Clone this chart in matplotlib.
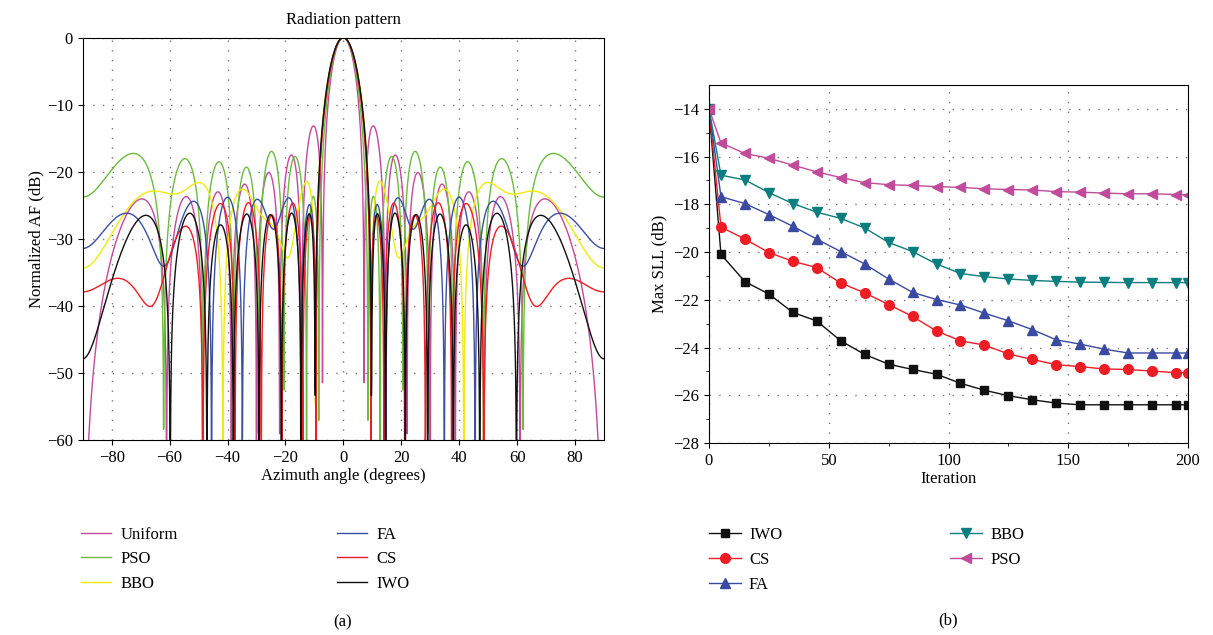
import numpy as np
import matplotlib
matplotlib.use('Agg')
import matplotlib.pyplot as plt

plt.rcParams['font.family'] = ['Liberation Serif', 'DejaVu Serif']
plt.rcParams['font.size'] = 12

# (a) half of each symmetric 16-element array: element positions (wavelengths) and amplitudes
pos_uniform = [0.25, 0.75, 1.25, 1.75, 2.25, 2.75, 3.25, 3.75]
amp_uniform = [1, 1, 1, 1, 1, 1, 1, 1]
pos_pso = [0.199, 0.79, 1.183, 1.632, 2.213, 2.716, 3.433, 3.798]
amp_pso = [0.779, 1.0, 0.393, 0.819, 0.491, 0.541, 0.629, 0.477]
pos_bbo = [0.252, 0.827, 1.291, 1.653, 2.186, 2.75, 3.391, 4.111]
amp_bbo = [0.866, 1.0, 0.864, 0.541, 0.773, 0.673, 0.364, 0.204]
pos_fa = [0.222, 0.773, 1.432, 1.846, 2.253, 2.797, 3.158, 3.878]
amp_fa = [0.927, 1.0, 0.923, 0.172, 0.953, 0.313, 0.413, 0.38]
pos_cs = [0.242, 0.746, 1.171, 1.617, 2.019, 2.473, 3.192, 3.832]
amp_cs = [1.0, 0.916, 0.714, 0.73, 0.516, 0.727, 0.632, 0.458]
pos_iwo = [0.258, 0.718, 1.267, 1.687, 2.22, 2.906, 3.385, 3.745]
amp_iwo = [1.0, 0.95, 0.966, 0.613, 0.877, 0.648, 0.176, 0.45]

# (b) max SLL per iteration
iterations = [0, 5, 15, 25, 35, 45, 55, 65, 75, 85, 95, 105, 115, 125, 135, 145, 155, 165, 175, 185, 195, 200]
sll_iwo = [-14.0, -20.1, -21.24, -21.76, -22.53, -22.89, -23.72, -24.29, -24.70, -24.92, -25.12, -25.5,
           -25.79, -26.02, -26.19, -26.33, -26.4, -26.4, -26.4, -26.4, -26.4, -26.4]
sll_cs = [-14.0, -18.95, -19.46, -20.02, -20.39, -20.65, -21.3, -21.71, -22.2, -22.7, -23.31, -23.72,
          -23.9, -24.27, -24.5, -24.72, -24.8, -24.9, -24.92, -24.99, -25.05, -25.05]
sll_fa = [-14.0, -17.68, -17.97, -18.43, -18.92, -19.46, -19.98, -20.5, -21.13, -21.69, -21.99, -22.22,
          -22.56, -22.88, -23.25, -23.68, -23.86, -24.07, -24.23, -24.23, -24.23, -24.23]
sll_bbo = [-14.0, -16.78, -16.98, -17.51, -17.97, -18.33, -18.59, -18.99, -19.6, -19.98, -20.5, -20.9,
           -21.03, -21.13, -21.19, -21.23, -21.26, -21.27, -21.28, -21.28, -21.28, -21.28]
sll_pso = [-14.0, -15.43, -15.87, -16.07, -16.36, -16.64, -16.88, -17.09, -17.18, -17.21, -17.26, -17.29,
           -17.35, -17.38, -17.40, -17.47, -17.49, -17.53, -17.56, -17.56, -17.59, -17.6]

theta = np.linspace(-90, 90, 1801)


def pattern(pos, amp):
    # normalized array factor of a symmetric linear array, in dB
    u = np.sin(np.radians(theta))
    a = np.asarray(amp, dtype=float)
    af = (a[:, None] * np.cos(2 * np.pi * np.asarray(pos)[:, None] * u)).sum(0)
    return 20 * np.log10(np.abs(af) / a.sum() + 1e-9)


fig = plt.figure(figsize=(12.13, 6.35), dpi=100)
ax1 = fig.add_axes([0.0682, 0.3071, 0.4297, 0.6335])
ax2 = fig.add_axes([0.5845, 0.3024, 0.3949, 0.5638])

grid_kw = dict(color='#777777', linestyle=(0, (1, 6)), linewidth=1.0)

# (a) radiation pattern
ax1.plot(theta, pattern(pos_uniform, amp_uniform), color='#c4489c', lw=1.0, label='Uniform')
ax1.plot(theta, pattern(pos_pso, amp_pso), color='#6cbb3c', lw=1.0, label='PSO')
ax1.plot(theta, pattern(pos_bbo, amp_bbo), color='#f2ea0a', lw=1.0, label='BBO')
ax1.plot(theta, pattern(pos_fa, amp_fa), color='#3b4fa3', lw=1.0, label='FA')
ax1.plot(theta, pattern(pos_cs, amp_cs), color='#ee1c24', lw=1.0, label='CS')
ax1.plot(theta, pattern(pos_iwo, amp_iwo), color='#111111', lw=1.0, label='IWO')
ax1.set_xlim(-90, 90)
ax1.set_ylim(-60, 0)
ax1.set_xticks(range(-80, 81, 20))
ax1.set_yticks(range(-60, 1, 10))
ax1.grid(True, **grid_kw)
ax1.set_title('Radiation pattern', fontsize=12, pad=10)
ax1.set_xlabel('Azimuth angle (degrees)', labelpad=2)
ax1.set_ylabel('Normalized AF (dB)', labelpad=2)
ax1.legend(ncol=2, loc='upper left', bbox_to_anchor=(81 / 1213, 1 - 527 / 635),
           bbox_transform=fig.transFigure, frameon=False, borderpad=0, borderaxespad=0,
           handlelength=1.8, handletextpad=0.6, columnspacing=9.5, labelspacing=0.5)

# (b) convergence
ax2.plot(iterations, sll_iwo, color='#111111', marker='s', ms=6, lw=1.0, label='IWO')
ax2.plot(iterations, sll_cs, color='#ee1c24', marker='o', ms=7, lw=1.0, label='CS')
ax2.plot(iterations, sll_fa, color='#3a4aa0', marker='^', ms=7, lw=1.0, label='FA')
ax2.plot(iterations, sll_bbo, color='#0b7f7f', marker='v', ms=7, lw=1.0, label='BBO')
ax2.plot(iterations, sll_pso, color='#c04b9b', marker='<', ms=7, lw=1.0, label='PSO')
ax2.set_xlim(0, 200)
ax2.set_ylim(-28, -13)
ax2.set_xticks(range(0, 201, 50))
ax2.set_xticks(range(25, 200, 50), minor=True)
ax2.set_yticks(range(-28, -13, 2))
ax2.set_yticks(range(-27, -13, 2), minor=True)
ax2.grid(True, **grid_kw)
ax2.set_xlabel('Iteration', labelpad=2)
ax2.set_ylabel('Max SLL (dB)', labelpad=4)
ax2.legend(ncol=2, loc='upper left', bbox_to_anchor=(709 / 1213, 1 - 527 / 635),
           bbox_transform=fig.transFigure, frameon=False, borderpad=0, borderaxespad=0,
           handlelength=1.9, handletextpad=0.5, columnspacing=10.1, labelspacing=0.55, numpoints=1)

fig.text(343 / 1213, 1 - 622 / 635, '(a)', ha='center', va='center', fontsize=12)
fig.text(948 / 1213, 1 - 620 / 635, '(b)', ha='center', va='center', fontsize=12)

fig.savefig('out.png', dpi=100)
